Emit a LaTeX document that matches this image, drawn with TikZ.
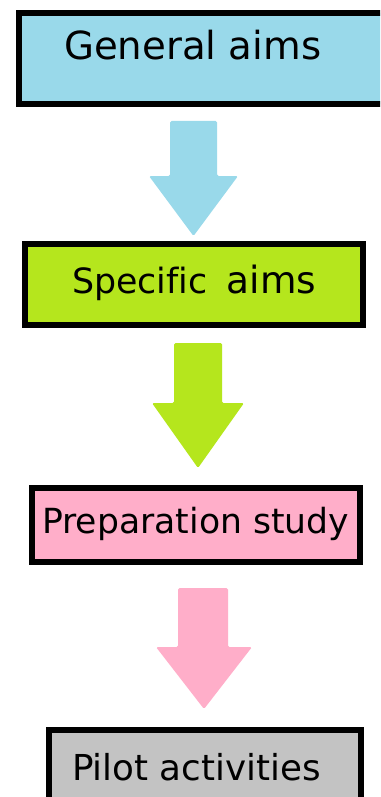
\documentclass[tikz,border=0pt]{standalone}
\usepackage{fontspec}
\setmainfont[Ligatures=NoCommon]{DejaVu Sans}
\definecolor{cblue}{HTML}{99D9EA}
\definecolor{cgreen}{HTML}{B5E61D}
\definecolor{cpink}{HTML}{FFAEC9}
\definecolor{cgray}{HTML}{C3C3C3}
\tikzset{
  box/.style={draw=black, line width=5.8pt, inner sep=0pt, rectangle},
  lbl/.style={anchor=base west, inner sep=0pt, text=black},
  blockarrow/.style={rounded corners=1.5pt}
}
\begin{document}
\begin{tikzpicture}[x=1pt,y=-1pt]
\useasboundingbox (0,0) rectangle (380,797);
\clip (0,0) rectangle (380,797);
\fill[white] (0,0) rectangle (380,797);
% boxes
\node[box, fill=cblue, minimum width=378pt, minimum height=91.5pt] (b1) at (208,58.5) {};
\node[box, fill=cgreen, minimum width=338pt, minimum height=81pt] (b2) at (194,284.5) {};
\node[box, fill=cpink, minimum width=328pt, minimum height=74pt] (b3) at (196,525) {};
\node[box, fill=cgray, minimum width=312pt, minimum height=100pt] (b4) at (205,780) {};
% labels
\node[lbl, font=\fontsize{38.7}{40}\selectfont] (t1) at (64,60) {General aims};
\node[lbl] (t2) at (72,293) {\fontsize{34.8}{36}\selectfont Specific\hspace{19pt}\fontsize{37.5}{39}\selectfont aims};
\node[lbl, font=\fontsize{34.6}{36}\selectfont] (t3) at (42,533) {Preparation study};
\node[lbl, font=\fontsize{35.7}{37}\selectfont] (t4) at (72,780) {Pilot activities};
% block arrows
\fill[cblue, blockarrow] (170,121) -- (217,121) -- (217,176) -- (238,176) -- (193.5,236) -- (149,176) -- (170,176) -- cycle;
\fill[cgreen, blockarrow] (174,343) -- (222,343) -- (222,403) -- (244,403) -- (198,468) -- (152,403) -- (174,403) -- cycle;
\fill[cpink, blockarrow] (178,588) -- (228,588) -- (228,647) -- (252,647) -- (204,709) -- (156,647) -- (178,647) -- cycle;
\end{tikzpicture}
\end{document}
